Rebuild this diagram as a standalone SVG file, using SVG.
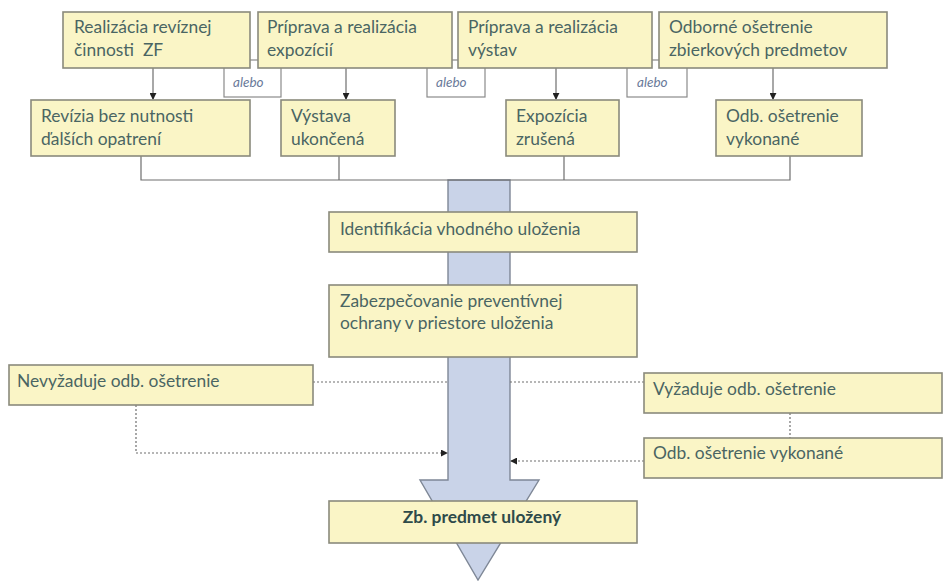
<svg xmlns="http://www.w3.org/2000/svg" width="945" height="581" viewBox="0 0 945 581">
<defs>
<style>
.box{fill:#FAF5C6;stroke:#8A8A7C;stroke-width:1.6}
.alb{fill:#FFFFFF;stroke:#8A8A8A;stroke-width:1.2}
.t{font-family:Lato,"Open Sans",sans-serif;font-size:17.4px;fill:#4A6563;white-space:pre}
.b{font-weight:bold;fill:#2E4A4A}
.a{font-family:Lato,"Open Sans",sans-serif;font-size:13.5px;font-style:italic;fill:#6A7A9A}
.ln{fill:none;stroke:#6E6E6E;stroke-width:1.2}
.dt{fill:none;stroke:#6E6E6E;stroke-width:1.2;stroke-dasharray:2 2}
</style>
<marker id="ah" viewBox="0 0 8 8" refX="7" refY="4" markerWidth="7" markerHeight="7" orient="auto" markerUnits="userSpaceOnUse"><path d="M0,0 L8,4 L0,8 z" fill="#222"/></marker>
</defs>
<rect width="945" height="581" fill="#FFFFFF"/>
<g id="bigarrow"><path d="M448,180 L510,180 L510,480 L539,480 L478,580 L420,480 L448,480 Z" fill="#C9D3E8" stroke="#7E8796" stroke-width="1.4"/></g>
<g id="connectors">
<line class="ln" x1="153" y1="68" x2="153" y2="99" marker-end="url(#ah)"/>
<line class="ln" x1="346" y1="68" x2="346" y2="99" marker-end="url(#ah)"/>
<line class="ln" x1="556" y1="68" x2="556" y2="99" marker-end="url(#ah)"/>
<line class="ln" x1="773" y1="68" x2="773" y2="99" marker-end="url(#ah)"/>
<path class="ln" d="M141,156 L141,180 L790,180 L790,156 M339,156 L339,180 M564,156 L564,180"/>
<path class="dt" d="M313,382 L448,382"/>
<path class="dt" d="M136,405 L136,453 L447,453" marker-end="url(#ah)"/>
<path class="dt" d="M644,382 L510,382"/>
<path class="dt" d="M790,413 L790,438"/>
<path class="dt" d="M644,461 L511,461" marker-end="url(#ah)"/>
</g>
<g id="alebo1"><rect class="alb" x="224" y="60" width="57" height="37"/><text class="a" x="233" y="87">alebo</text></g>
<g id="alebo2"><rect class="alb" x="427" y="60" width="58" height="37"/><text class="a" x="436" y="87">alebo</text></g>
<g id="alebo3"><rect class="alb" x="627" y="60" width="60" height="37"/><text class="a" x="637" y="87">alebo</text></g>
<g id="n1"><rect class="box" x="63" y="12" width="187" height="56"/><text class="t" x="74" y="33">Realizácia revíznej</text><text class="t" x="74" y="56">činnosti  ZF</text></g>
<g id="n2"><rect class="box" x="258" y="12" width="194" height="56"/><text class="t" x="267" y="33">Príprava a realizácia</text><text class="t" x="267" y="56">expozícií</text></g>
<g id="n3"><rect class="box" x="458" y="12" width="194" height="56"/><text class="t" x="468" y="33">Príprava a realizácia</text><text class="t" x="468" y="56">výstav</text></g>
<g id="n4"><rect class="box" x="659" y="12" width="228" height="56"/><text class="t" x="669" y="33">Odborné ošetrenie</text><text class="t" x="669" y="56">zbierkových predmetov</text></g>
<g id="n5"><rect class="box" x="31" y="100" width="219" height="56"/><text class="t" x="41" y="122">Revízia bez nutnosti</text><text class="t" x="41" y="145">ďalších opatrení</text></g>
<g id="n6"><rect class="box" x="281" y="100" width="114" height="56"/><text class="t" x="291" y="122">Výstava</text><text class="t" x="291" y="145">ukončená</text></g>
<g id="n7"><rect class="box" x="506" y="100" width="113" height="56"/><text class="t" x="516" y="122">Expozícia</text><text class="t" x="516" y="145">zrušená</text></g>
<g id="n8"><rect class="box" x="716" y="100" width="146" height="56"/><text class="t" x="726" y="122">Odb. ošetrenie</text><text class="t" x="726" y="145">vykonané</text></g>
<g id="n9"><rect class="box" x="329" y="212" width="308" height="40"/><text class="t" x="340" y="235">Identifikácia vhodného uloženia</text></g>
<g id="n10"><rect class="box" x="329" y="285" width="308" height="72"/><text class="t" x="340" y="307">Zabezpečovanie preventívnej</text><text class="t" x="340" y="329">ochrany v priestore uloženia</text></g>
<g id="n11"><rect class="box" x="9" y="365" width="304" height="40"/><text class="t" x="17" y="387">Nevyžaduje odb. ošetrenie</text></g>
<g id="n12"><rect class="box" x="644" y="373" width="298" height="40"/><text class="t" x="653" y="395">Vyžaduje odb. ošetrenie</text></g>
<g id="n13"><rect class="box" x="644" y="438" width="298" height="40"/><text class="t" x="653" y="459">Odb. ošetrenie vykonané</text></g>
<g id="n14"><rect class="box" x="329" y="501" width="308" height="42"/><text class="t b" x="482" y="523" text-anchor="middle">Zb. predmet uložený</text></g>
</svg>
